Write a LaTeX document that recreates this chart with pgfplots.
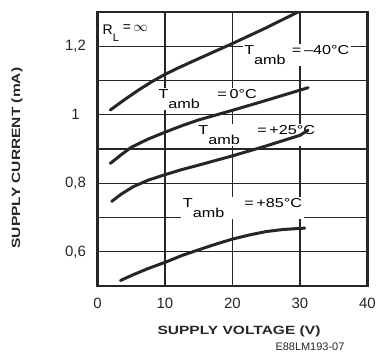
\documentclass[border=0pt]{standalone}
\usepackage{fontspec}
\setmainfont{Liberation Sans}
\usepackage{pgfplots}
\pgfplotsset{compat=1.18}
\usepackage{graphicx}
\definecolor{ink}{HTML}{262626}
\newcommand\Tamb[2]{\scalebox{1.25}[1]{T\raisebox{-10bp}{amb}\hspace{#1}#2}}
\begin{document}
\begin{tikzpicture}
\path[use as bounding box] (-97.5bp,-76bp) rectangle (283.5bp,286bp);
\begin{axis}[at={(0,0)}, anchor=south west, scale only axis,
  width=270bp, height=274bp,
  xmin=0, xmax=40, ymin=0.5, ymax=1.3,
  xtick={0,10,20,30,40},
  ytick={0.6,0.8,1.0,1.2}, yticklabels={{0,6},{0,8},{1},{1,2}},
  minor ytick={0.7,0.9,1.1},
  grid=both,
  major grid style={ink, line width=1.2bp},
  minor grid style={ink, line width=1.2bp},
  axis line style={ink, line width=2.6bp},
  tick style={draw=none},
  /pgf/number format/assume math mode=true,
  ticklabel style={font=\fontsize{15}{15}\selectfont, text=ink},
  xticklabel style={anchor=center, yshift=-17bp},
  yticklabel style={anchor=center, xshift=-22bp},
  every node/.append style={text=ink},
]
\node[anchor=base west, inner sep=1bp, font=\fontsize{14}{14}\selectfont] at (axis cs:0.6,1.233) {R\raisebox{-7bp}{\fontsize{11}{11}\selectfont L}\hspace{4bp}\raisebox{3bp}{=\,$\infty$}};
\node[anchor=base west, fill=white, inner sep=1.5bp, font=\fontsize{13}{13}\selectfont] at (axis cs:21.5,1.175) {\Tamb{5bp}{=\,--40°C}};
\node[anchor=base west, fill=white, inner sep=1.5bp, font=\fontsize{13}{13}\selectfont] at (axis cs:8.8,1.048) {\Tamb{14bp}{=\,0°C}};
\node[anchor=base west, fill=white, inner sep=1.5bp, font=\fontsize{13}{13}\selectfont] at (axis cs:14.7,0.943) {\Tamb{14bp}{=\,+25°C}};
\node[anchor=base west, fill=white, inner sep=1.5bp, font=\fontsize{13}{13}\selectfont] at (axis cs:12.4,0.729) {\Tamb{16bp}{=\,+85°C}};
\addplot[ink, line width=3bp, line cap=round, line join=round] coordinates {
 (1.9,1.014) (4,1.044) (6,1.071) (8,1.096) (10,1.118) (12,1.137) (15,1.164) (20,1.208) (25,1.254) (29.7,1.3)};
\addplot[ink, line width=3bp, line cap=round, line join=round] coordinates {
 (1.9,0.858) (3.5,0.883) (5,0.905) (7.5,0.929) (10,0.949) (12.5,0.968) (15,0.985) (20,1.013) (25,1.042) (31.2,1.079)};
\addplot[ink, line width=3bp, line cap=round, line join=round] coordinates {
 (2.1,0.747) (3.5,0.768) (5.3,0.79) (7.5,0.809) (10,0.825) (12.5,0.84) (15,0.853) (20,0.88) (25,0.909) (30,0.94) (31.2,0.955)};
\addplot[ink, line width=3bp, line cap=round, line join=round] coordinates {
 (3.4,0.516) (5.3,0.533) (7.5,0.551) (10,0.569) (12.5,0.589) (15.2,0.607) (17.5,0.622) (20,0.637) (22.5,0.649) (25,0.659) (27.5,0.665) (30.7,0.669)};
\end{axis}
\node[rotate=90, text=ink] at (-80.5bp,128bp) {\scalebox{1.3}[1]{\fontsize{12}{12}\selectfont\bfseries SUPPLY CURRENT (mA)}};
\node[text=ink] at (141.5bp,-45bp) {\scalebox{1.3}[1]{\fontsize{12}{12}\selectfont\bfseries SUPPLY VOLTAGE (V)}};
\node[anchor=west, text=ink] at (174.5bp,-61bp) {\fontsize{11}{11}\selectfont E88LM193-07};
\end{tikzpicture}
\end{document}
